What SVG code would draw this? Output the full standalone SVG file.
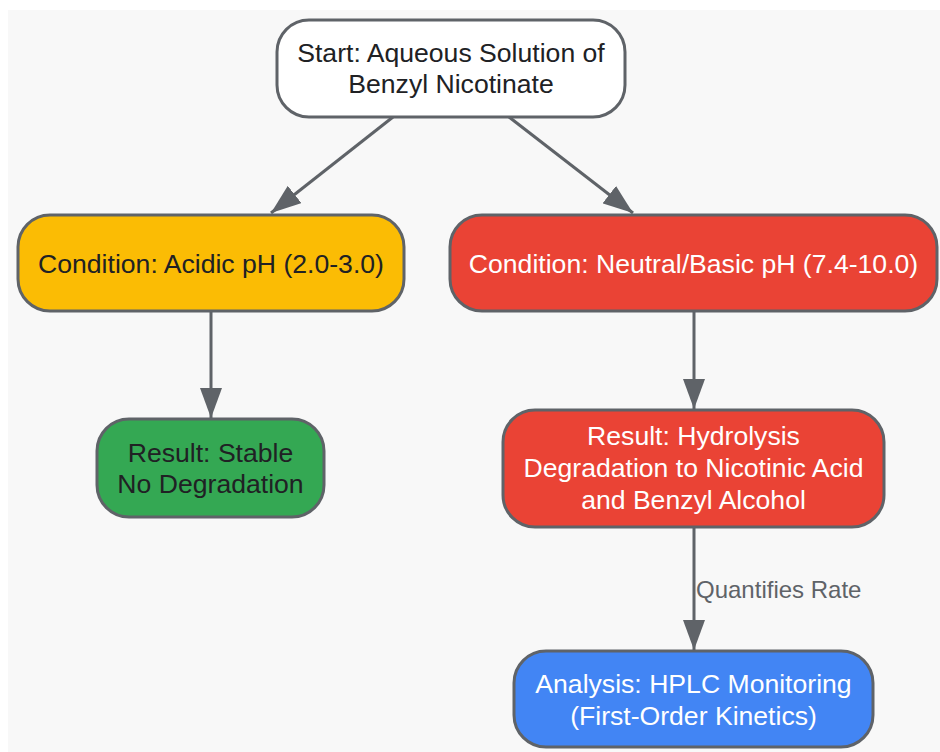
<svg xmlns="http://www.w3.org/2000/svg" width="940" height="752" viewBox="0 0 940 752">
<defs>
<marker id="arr" viewBox="0 0 30 22" refX="30" refY="11" markerWidth="30" markerHeight="22" markerUnits="userSpaceOnUse" orient="auto">
<path d="M0,0 L30,11 L0,22 Z" fill="#5f6368"/>
</marker>
<style>
.n{stroke:#5f6368;stroke-width:3}
.t{font-family:"Liberation Sans",Arial,sans-serif;font-size:26.6px;text-anchor:middle}
.d{fill:#202124}
.w{fill:#ffffff}
.e{fill:none;stroke:#5f6368;stroke-width:3}
.l{font-family:"Liberation Sans",Arial,sans-serif;font-size:24px;fill:#5f6368}
</style>
</defs>
<rect x="0" y="0" width="940" height="752" fill="#ffffff"/>
<rect x="8" y="10" width="932" height="742" fill="#f8f8f8"/>
<g id="connectors">
<line class="e" x1="393" y1="117" x2="271" y2="213" marker-end="url(#arr)"/>
<line class="e" x1="509" y1="117" x2="633" y2="213" marker-end="url(#arr)"/>
<line class="e" x1="211" y1="311" x2="211" y2="418" marker-end="url(#arr)"/>
<line class="e" x1="694" y1="311" x2="694" y2="409" marker-end="url(#arr)"/>
<line class="e" x1="694" y1="527" x2="694" y2="650" marker-end="url(#arr)"/>
<text class="l" x="696" y="598">Quantifies Rate</text>
</g>
<g id="start">
<rect class="n" x="277" y="20" width="348" height="97" rx="32" fill="#ffffff"/>
<text class="t d" x="451" y="62">Start: Aqueous Solution of</text>
<text class="t d" x="451" y="93">Benzyl Nicotinate</text>
</g>
<g id="acidic">
<rect class="n" x="18" y="215" width="386" height="96" rx="32" fill="#fbbc04"/>
<text class="t d" x="211" y="273">Condition: Acidic pH (2.0-3.0)</text>
</g>
<g id="neutral">
<rect class="n" x="450" y="215" width="487" height="96" rx="32" fill="#ea4335"/>
<text class="t w" x="693.5" y="273">Condition: Neutral/Basic pH (7.4-10.0)</text>
</g>
<g id="stable">
<rect class="n" x="97" y="419" width="227" height="98" rx="32" fill="#34a853"/>
<text class="t d" x="210.5" y="462">Result: Stable</text>
<text class="t d" x="210.5" y="493">No Degradation</text>
</g>
<g id="hydrolysis">
<rect class="n" x="503" y="410" width="381" height="117" rx="32" fill="#ea4335"/>
<text class="t w" x="693.5" y="445">Result: Hydrolysis</text>
<text class="t w" x="693.5" y="477">Degradation to Nicotinic Acid</text>
<text class="t w" x="693.5" y="509">and Benzyl Alcohol</text>
</g>
<g id="analysis">
<rect class="n" x="514" y="651" width="359" height="96" rx="32" fill="#4285f4"/>
<text class="t w" x="693.5" y="693">Analysis: HPLC Monitoring</text>
<text class="t w" x="693.5" y="725">(First-Order Kinetics)</text>
</g>
</svg>
